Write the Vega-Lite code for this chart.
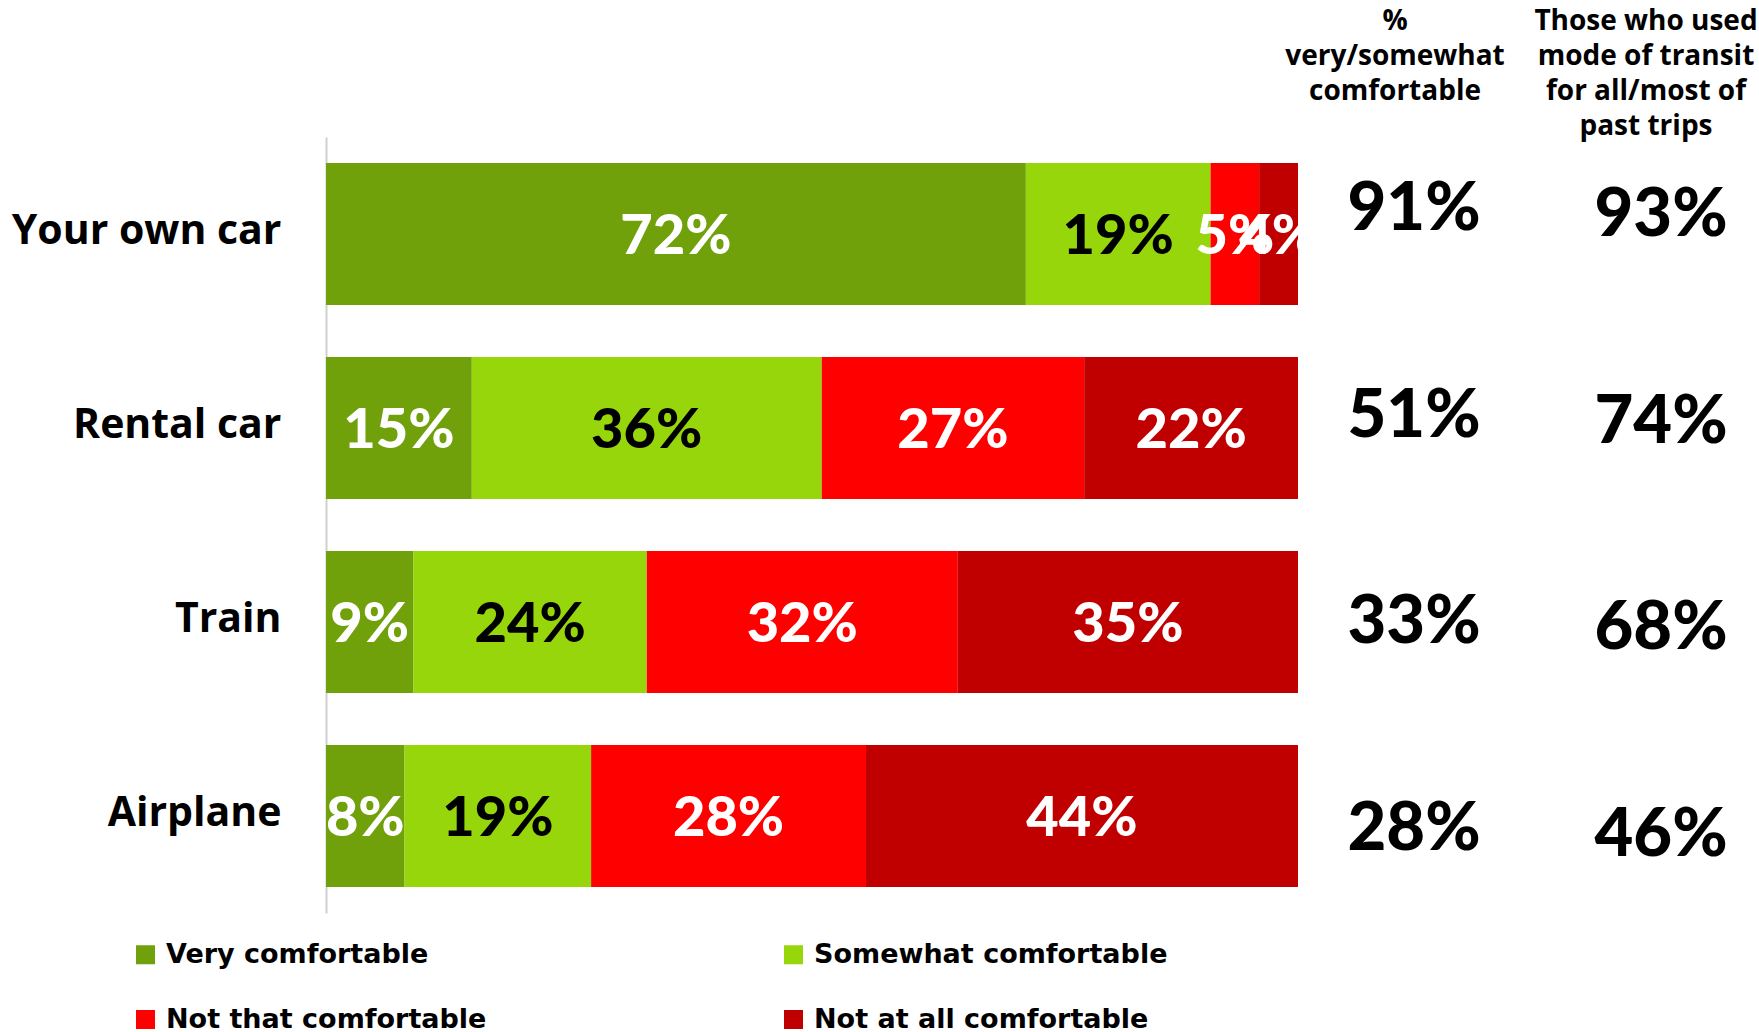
{
  "$schema": "https://vega.github.io/schema/vega-lite/v6.json",
  "width": 1430,
  "height": 776,
  "autosize": {"type": "none"},
  "padding": {"left": 326, "top": 137, "right": 3, "bottom": 119},
  "background": "white",
  "config": {"view": {"stroke": null}},
  "datasets": {
    "bars": [
      {"mode": "Your own car", "category": "Very comfortable", "value": 0.72},
      {"mode": "Your own car", "category": "Somewhat comfortable", "value": 0.19},
      {"mode": "Your own car", "category": "Not that comfortable", "value": 0.05},
      {"mode": "Your own car", "category": "Not at all comfortable", "value": 0.04},
      {"mode": "Rental car", "category": "Very comfortable", "value": 0.15},
      {"mode": "Rental car", "category": "Somewhat comfortable", "value": 0.36},
      {"mode": "Rental car", "category": "Not that comfortable", "value": 0.27},
      {"mode": "Rental car", "category": "Not at all comfortable", "value": 0.22},
      {"mode": "Train", "category": "Very comfortable", "value": 0.09},
      {"mode": "Train", "category": "Somewhat comfortable", "value": 0.24},
      {"mode": "Train", "category": "Not that comfortable", "value": 0.32},
      {"mode": "Train", "category": "Not at all comfortable", "value": 0.35},
      {"mode": "Airplane", "category": "Very comfortable", "value": 0.08},
      {"mode": "Airplane", "category": "Somewhat comfortable", "value": 0.19},
      {"mode": "Airplane", "category": "Not that comfortable", "value": 0.28},
      {"mode": "Airplane", "category": "Not at all comfortable", "value": 0.44}
    ],
    "table": [
      {"mode": "Your own car", "column": "comfortable", "value": 0.91},
      {"mode": "Rental car", "column": "comfortable", "value": 0.51},
      {"mode": "Train", "column": "comfortable", "value": 0.33},
      {"mode": "Airplane", "column": "comfortable", "value": 0.28},
      {"mode": "Your own car", "column": "used", "value": 0.93},
      {"mode": "Rental car", "column": "used", "value": 0.74},
      {"mode": "Train", "column": "used", "value": 0.68},
      {"mode": "Airplane", "column": "used", "value": 0.46}
    ],
    "headers": [
      {"column": "comfortable", "lines": ["%", "very/somewhat", "comfortable"]},
      {"column": "used", "lines": ["Those who used", "mode of transit", "for all/most of", "past trips"]}
    ]
  },
  "layer": [
    {
      "data": {"name": "bars"},
      "encoding": {
        "y": {
          "field": "mode",
          "type": "nominal",
          "sort": ["Your own car", "Rental car", "Train", "Airplane"],
          "scale": {"type": "band", "paddingInner": 0.268, "paddingOuter": 0.134},
          "axis": {
            "title": null,
            "labelFont": "Open Sans",
            "labelFontSize": 41,
            "labelFontWeight": "bold",
            "labelColor": "black",
            "ticks": false,
            "tickSize": 0,
            "labelPadding": 45,
            "labelOffset": -2,
            "labelLimit": 400,
            "domainColor": "#d0d0d0",
            "domainWidth": 2
          }
        },
        "order": {"field": "category", "type": "nominal", "sort": "descending"}
      },
      "layer": [
        {
          "mark": {"type": "bar"},
          "encoding": {
            "x": {"field": "value", "type": "quantitative", "stack": "normalize", "scale": {"domain": [0, 1], "range": [0, 972]}, "axis": null},
            "color": {
              "field": "category",
              "type": "nominal",
              "sort": ["Very comfortable", "Somewhat comfortable", "Not that comfortable", "Not at all comfortable"],
              "scale": {"range": ["#70A00A", "#96D60B", "#FF0000", "#C00000"]},
              "legend": {
                "orient": "none",
                "legendX": -194,
                "legendY": 804,
                "direction": "horizontal",
                "columns": 2,
                "title": null,
                "symbolType": "square",
                "symbolSize": 361,
                "symbolStrokeWidth": 0,
                "symbolOpacity": 1,
                "labelFont": "DejaVu Sans",
                "labelFontSize": 27,
                "labelFontWeight": "bold",
                "labelColor": "black",
                "labelOffset": 7,
                "labelLimit": 600,
                "columnPadding": 293,
                "rowPadding": 37,
                "padding": 0
              }
            }
          }
        },
        {
          "mark": {"type": "text", "font": "Lato", "fontSize": 56, "fontWeight": 900, "baseline": "middle", "align": "center", "dy": 3},
          "encoding": {
            "x": {"field": "value", "type": "quantitative", "stack": "normalize", "bandPosition": 0.5, "scale": {"domain": [0, 1], "range": [0, 972]}, "axis": null},
            "color": {
              "field": "category",
              "type": "nominal",
              "sort": ["Very comfortable", "Somewhat comfortable", "Not that comfortable", "Not at all comfortable"],
              "scale": {"range": ["#FFFFFF", "#000000", "#FFFFFF", "#FFFFFF"]},
              "legend": null
            },
            "text": {"field": "value", "type": "quantitative", "format": ".0%"}
          }
        }
      ],
      "resolve": {"scale": {"color": "independent"}, "legend": {"color": "independent"}}
    },
    {
      "data": {"name": "table"},
      "mark": {"type": "text", "font": "Lato", "fontSize": 67, "fontWeight": 900, "baseline": "middle", "align": "center", "color": "black"},
      "encoding": {
        "x": {"field": "column", "type": "nominal", "scale": {"type": "point", "padding": 0, "domain": ["comfortable", "used"], "range": [1088, 1335]}, "axis": null},
        "y": {"field": "mode", "type": "nominal", "scale": {"type": "point", "padding": 0, "domain": ["Your own car", "Rental car", "Train", "Airplane"], "range": [76, 696]}, "axis": null},
        "yOffset": {"field": "column", "type": "nominal", "scale": {"type": "point", "padding": 0, "domain": ["comfortable", "used"], "range": [-3, 3]}},
        "text": {"field": "value", "type": "quantitative", "format": ".0%"}
      }
    },
    {
      "data": {"name": "headers"},
      "mark": {"type": "text", "font": "Open Sans", "fontSize": 28, "fontWeight": "bold", "baseline": "alphabetic", "align": "center", "color": "black", "lineHeight": 35},
      "encoding": {
        "x": {"field": "column", "type": "nominal", "scale": {"type": "point", "padding": 0, "domain": ["comfortable", "used"], "range": [1069, 1320]}, "axis": null},
        "y": {"field": "column", "type": "nominal", "scale": {"type": "point", "padding": 0, "domain": ["comfortable", "used"], "range": [-107, -107]}, "axis": null},
        "text": {"field": "lines"}
      }
    }
  ],
  "resolve": {"scale": {"x": "independent", "y": "independent", "yOffset": "independent"}, "axis": {"x": "independent", "y": "independent"}}
}
